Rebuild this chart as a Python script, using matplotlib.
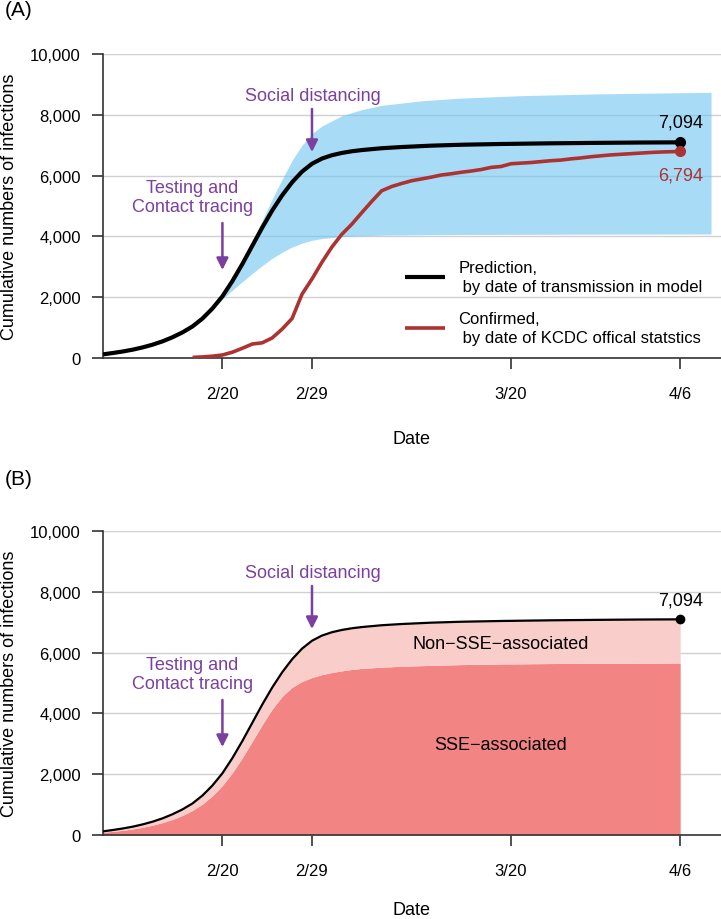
import matplotlib
matplotlib.use("Agg")
import matplotlib.pyplot as plt
from matplotlib.ticker import FuncFormatter

plt.rcParams['font.family'] = ['Liberation Sans', 'DejaVu Sans']

# ---- data (t = days since Feb 8, 2020) ----
tick_pos = [12, 21, 41, 58]
tick_labels = ['2/20', '2/29', '3/20', '4/6']

pred_t = [0, 1, 2, 3, 4, 5, 6, 7, 8, 9, 10, 11, 12, 13, 14, 15, 16, 17, 18, 19,
          20, 21, 22, 23, 24, 25, 26, 28, 30, 33, 36, 40, 45, 50, 54, 58]
pred = [120, 165, 215, 275, 350, 440, 550, 685, 845, 1040, 1300, 1630, 2030, 2530,
        3090, 3690, 4290, 4850, 5350, 5780, 6130, 6390, 6560, 6670, 6745, 6800,
        6840, 6900, 6940, 6985, 7015, 7040, 7062, 7078, 7088, 7094]

band_t = [10.5, 11, 12, 13, 14, 15, 16, 17, 18, 19, 20, 21, 22, 24, 26, 28, 32,
          36, 42, 50, 61.1]
band_upper = [1450, 1660, 2060, 2580, 3170, 3830, 4530, 5230, 5880, 6500, 7000,
              7380, 7630, 7970, 8170, 8310, 8460, 8550, 8630, 8690, 8740]
band_lower = [1450, 1600, 1930, 2230, 2510, 2780, 3040, 3280, 3480, 3650, 3780,
              3870, 3930, 3990, 4020, 4040, 4055, 4062, 4068, 4074, 4080]

conf_t = list(range(9, 59))
confirmed = [20, 35, 60, 100, 190, 320, 460, 500, 660, 950, 1300, 2100, 2600, 3150,
             3650, 4070, 4400, 4780, 5150, 5500, 5640, 5740, 5830, 5890, 5950, 6020,
             6060, 6110, 6150, 6200, 6270, 6300, 6390, 6410, 6430, 6460, 6490, 6510,
             6550, 6580, 6620, 6650, 6680, 6700, 6720, 6740, 6760, 6775, 6785, 6794]

sse = [90, 120, 155, 200, 255, 325, 410, 515, 645, 810, 1020, 1290, 1630, 2050,
       2540, 3080, 3630, 4140, 4560, 4860, 5050, 5180, 5275, 5345, 5400, 5445,
       5480, 5520, 5550, 5580, 5605, 5625, 5640, 5648, 5652, 5658]

PURPLE = '#7B3FA0'
RED = '#AD3232'
BLUE = '#6EC5F0'
PINK = '#F9CDCA'
SALMON = '#F28583'
GRID = '#D0D0D0'

W, H = 721, 920
fig = plt.figure(figsize=(W / 100, H / 100), dpi=100)

def make_ax(top_px, bottom_px, xlabelpad):
    ax = fig.add_axes([103 / W, 1 - bottom_px / H, 1 - 103 / W, (bottom_px - top_px) / H])
    ax.set_xlim(0, 62.1)
    ax.set_ylim(0, 10000)
    for s in ['top', 'right']:
        ax.spines[s].set_visible(False)
    for s in ['left', 'bottom']:
        ax.spines[s].set_linewidth(1.2)
        ax.spines[s].set_color('#333333')
    ax.set_yticks(range(0, 10001, 2000))
    ax.yaxis.set_major_formatter(FuncFormatter(lambda v, p: f'{int(v):,}'))
    ax.set_xticks(tick_pos)
    ax.set_xticklabels(tick_labels)
    ax.tick_params(axis='both', labelsize=12, length=8, width=1.2, color='#333333')
    ax.tick_params(axis='x', pad=12)
    ax.tick_params(axis='y', pad=8)
    ax.set_axisbelow(True)
    ax.yaxis.grid(True, color=GRID, linewidth=1)
    ax.set_xlabel('Date', fontsize=13, labelpad=xlabelpad)
    ax.set_ylabel('Cumulative numbers of infections', fontsize=13, labelpad=9)
    return ax

def annotate_interventions(ax):
    ax.text(9.0, 5296, 'Testing and\nContact tracing', color=PURPLE, fontsize=13,
            ha='center', va='center', linespacing=1.2)
    ax.annotate('', xy=(12, 2895), xytext=(12, 4441),
                arrowprops=dict(arrowstyle='-|>,head_width=0.35,head_length=0.7',
                                color=PURPLE, lw=1.8, shrinkA=0, shrinkB=0))
    ax.text(21.05, 8651, 'Social distancing', color=PURPLE, fontsize=13,
            ha='center', va='center')
    ax.annotate('', xy=(21, 6776), xytext=(21, 8191),
                arrowprops=dict(arrowstyle='-|>,head_width=0.35,head_length=0.7',
                                color=PURPLE, lw=1.8, shrinkA=0, shrinkB=0))

# ---- Panel A ----
axA = make_ax(55, 359, 21)
axA.fill_between(band_t, band_lower, band_upper, color=BLUE, alpha=0.6, lw=0, zorder=2)
axA.plot(pred_t, pred, color='black', lw=3, zorder=4, solid_capstyle='butt',
         solid_joinstyle='round',
         label='Prediction,\n by date of transmission in model')
axA.plot(conf_t, confirmed, color=RED, lw=2.6, zorder=3, solid_capstyle='butt',
         solid_joinstyle='round',
         label='Confirmed,\n by date of KCDC offical statstics')
axA.plot([pred_t[-1]], [pred[-1]], 'o', color='black', ms=7, zorder=5)
axA.plot([conf_t[-1]], [confirmed[-1]], 'o', color=RED, ms=7, zorder=5)
axA.text(58, 7763, f'{pred[-1]:,}', fontsize=13, ha='center', va='center', color='black')
axA.text(58, 6020, f'{confirmed[-1]:,}', fontsize=13, ha='center', va='center', color=RED)
annotate_interventions(axA)
leg = axA.legend(loc='upper left', bbox_to_anchor=((405 - 103) / 618, (359 - 261) / 304),
                 frameon=False, fontsize=12, borderpad=0, borderaxespad=0,
                 handlelength=2.4, handletextpad=0.8, labelspacing=1.0)
for t in leg.get_texts():
    t.set_linespacing(1.35)

fig.text(5 / W, 1 - 11 / H, '(A)', fontsize=15, ha='left', va='center')

# ---- Panel B ----
axB = make_ax(532, 836, 17)
axB.fill_between(pred_t, 0, sse, color=SALMON, lw=0, zorder=2)
axB.fill_between(pred_t, sse, pred, color=PINK, lw=0, zorder=2)
axB.plot(pred_t, pred, color='black', lw=1.6, zorder=4)
axB.plot([pred_t[-1]], [pred[-1]], 'o', color='black', ms=6, zorder=5)
axB.text(58, 7730, f'{pred[-1]:,}', fontsize=13, ha='center', va='center')
axB.text(40, 6283, 'Non\u2212SSE\u2212associated', fontsize=13, ha='center', va='center')
axB.text(40, 2993, 'SSE\u2212associated', fontsize=13, ha='center', va='center')
annotate_interventions(axB)

fig.text(5 / W, 1 - 480 / H, '(B)', fontsize=15, ha='left', va='center')

fig.savefig('out.png', dpi=100)
